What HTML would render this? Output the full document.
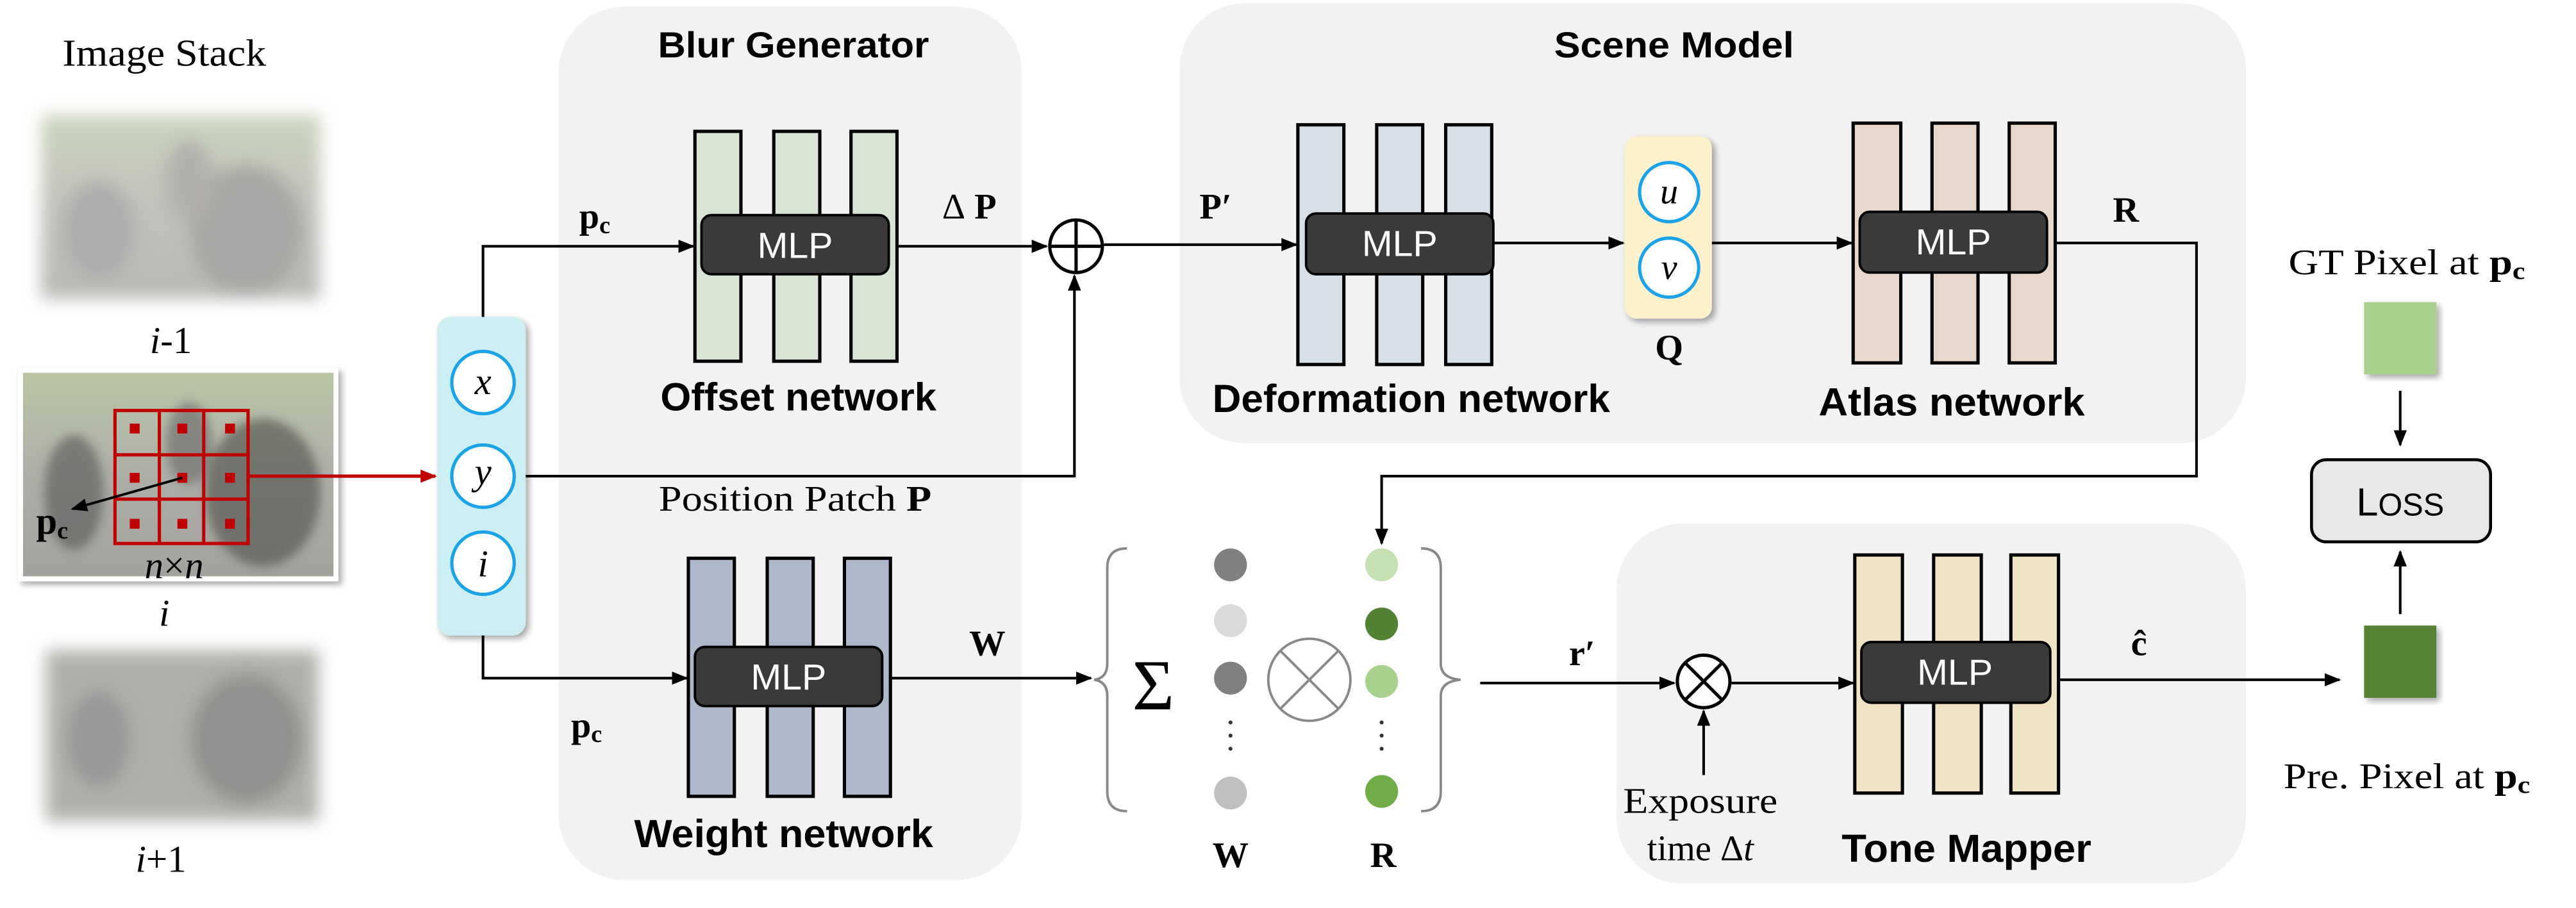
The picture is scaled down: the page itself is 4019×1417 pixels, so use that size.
<!DOCTYPE html>
<html><head><meta charset="utf-8"><style>html,body{margin:0;padding:0;background:#fff}svg{display:block}</style></head><body>
<svg width="4019" height="1417" viewBox="0 0 1568 553" preserveAspectRatio="none" xmlns="http://www.w3.org/2000/svg">
<defs>
<marker id="a" markerWidth="10" markerHeight="10" refX="9" refY="5" orient="auto" markerUnits="userSpaceOnUse"><path d="M0,1 L10,5 L0,9 z" fill="#000"/></marker>
<marker id="ar" markerWidth="10" markerHeight="10" refX="9" refY="5" orient="auto" markerUnits="userSpaceOnUse"><path d="M0,1 L10,5 L0,9 z" fill="#c00000"/></marker>
<filter id="bl"><feGaussianBlur stdDeviation="5"/></filter>
<filter id="bl2"><feGaussianBlur stdDeviation="3"/></filter>
<filter id="sh"><feDropShadow dx="2" dy="2" stdDeviation="2" flood-opacity="0.35"/></filter>
<linearGradient id="img" x1="0" y1="0" x2="0" y2="1"><stop offset="0" stop-color="#a9b890"/><stop offset="0.5" stop-color="#9a9a92"/><stop offset="1" stop-color="#8c8a84"/></linearGradient>
</defs>
<g font-family="Liberation Serif, serif">
<text x="100" y="40" font-size="23" text-anchor="middle" textLength="124" lengthAdjust="spacingAndGlyphs">Image Stack</text>
<g filter="url(#bl)" opacity="0.6"><rect x="25" y="70" width="170" height="112" fill="url(#img)"/><ellipse cx="60" cy="140" rx="22" ry="30" fill="#777"/><ellipse cx="150" cy="140" rx="35" ry="40" fill="#6e6e6a"/><ellipse cx="115" cy="110" rx="15" ry="25" fill="#807d78"/></g>
<text x="104" y="215" font-size="23" text-anchor="middle"><tspan font-style="italic">i</tspan>-1</text>
<rect x="11" y="224" width="195" height="130" fill="#fff" filter="url(#sh)"/>
<rect x="14" y="227" width="189" height="124" fill="url(#img)" opacity="0.8"/>
<g filter="url(#bl2)" opacity="0.6"><ellipse cx="45" cy="300" rx="18" ry="35" fill="#555"/><ellipse cx="160" cy="300" rx="35" ry="45" fill="#4e4e4a"/><ellipse cx="115" cy="270" rx="14" ry="25" fill="#666"/></g>
<g stroke="#c00000" stroke-width="2" fill="none"><rect x="70" y="250" width="81" height="81"/><line x1="97" y1="250" x2="97" y2="331"/><line x1="124" y1="250" x2="124" y2="331"/><line x1="70" y1="277" x2="151" y2="277"/><line x1="70" y1="304" x2="151" y2="304"/></g>
<g fill="#c00000"><rect x="79" y="258" width="6" height="6"/><rect x="108" y="258" width="6" height="6"/><rect x="137" y="258" width="6" height="6"/><rect x="79" y="288" width="6" height="6"/><rect x="108" y="288" width="6" height="6"/><rect x="137" y="288" width="6" height="6"/><rect x="79" y="316" width="6" height="6"/><rect x="108" y="316" width="6" height="6"/><rect x="137" y="316" width="6" height="6"/></g>
<line x1="111" y1="291" x2="44" y2="310" stroke="#000" stroke-width="1.5" marker-end="url(#a)"/>
<text x="22" y="325" font-size="23" font-weight="bold">p<tspan font-size="15" dy="3">c</tspan></text>
<text x="106" y="352" font-size="23" text-anchor="middle" font-style="italic">n<tspan font-style="normal">×</tspan>n</text>
<text x="100" y="381" font-size="23" text-anchor="middle" font-style="italic">i</text>
<g filter="url(#bl)" opacity="0.6"><rect x="28" y="396" width="166" height="104" fill="#7c7c74"/><ellipse cx="60" cy="450" rx="20" ry="30" fill="#555"/><ellipse cx="150" cy="450" rx="35" ry="40" fill="#4a4a46"/></g>
<text x="98" y="531" font-size="23" text-anchor="middle"><tspan font-style="italic">i</tspan>+1</text>
</g>
<rect x="340" y="4" width="282" height="532" rx="40" fill="#f2f2f2"/>
<rect x="718" y="2" width="649" height="268" rx="40" fill="#f2f2f2"/>
<rect x="984" y="319" width="383" height="219" rx="40" fill="#f2f2f2"/>
<g font-family="Liberation Sans, sans-serif" font-size="22" font-weight="bold" text-anchor="middle">
<text x="483" y="35" textLength="165" lengthAdjust="spacingAndGlyphs">Blur Generator</text>
<text x="1019" y="35" textLength="146" lengthAdjust="spacingAndGlyphs">Scene Model</text>
</g>
<rect x="266" y="193" width="54" height="194" rx="8" fill="#cdeef2" filter="url(#sh)"/>
<line x1="151" y1="290" x2="265" y2="290" stroke="#c00000" stroke-width="2" marker-end="url(#ar)"/>
<g stroke="#000" stroke-width="1.6" fill="none">
<polyline points="294,193 294,150 422,150" marker-end="url(#a)"/>
<line x1="541" y1="150" x2="637" y2="150" marker-end="url(#a)"/>
<polyline points="320,290 654,290 654,168" marker-end="url(#a)"/>
<polyline points="294,387 294,413 418,413" marker-end="url(#a)"/>
<line x1="537" y1="413" x2="664" y2="413" marker-end="url(#a)"/>
<line x1="672" y1="149" x2="789" y2="149" marker-end="url(#a)"/>
<line x1="909" y1="148" x2="988" y2="148" marker-end="url(#a)"/>
<line x1="1042" y1="148" x2="1127" y2="148" marker-end="url(#a)"/>
<polyline points="1251,148 1337,148 1337,290 841,290 841,331" marker-end="url(#a)"/>
<line x1="901" y1="416" x2="1019" y2="416" marker-end="url(#a)"/>
<line x1="1054" y1="416" x2="1128" y2="416" marker-end="url(#a)"/>
<line x1="1037" y1="472" x2="1037" y2="433" marker-end="url(#a)"/>
<line x1="1248" y1="414" x2="1424" y2="414" marker-end="url(#a)"/>
<line x1="1461" y1="238" x2="1461" y2="271" marker-end="url(#a)"/>
<line x1="1461" y1="374" x2="1461" y2="336" marker-end="url(#a)"/>
<circle cx="655" cy="150" r="16" fill="#fff" stroke-width="2"/>
<line x1="639" y1="150" x2="671" y2="150" stroke-width="2"/><line x1="655" y1="134" x2="655" y2="166" stroke-width="2"/>
<circle cx="1037" cy="415" r="16" fill="#fff" stroke-width="2"/>
<line x1="1026" y1="404" x2="1048" y2="426" stroke-width="2"/><line x1="1048" y1="404" x2="1026" y2="426" stroke-width="2"/>
</g>
<g fill="#fff" stroke="#1aa3e8" stroke-width="2"><circle cx="294" cy="233" r="19"/><circle cx="294" cy="290" r="19"/><circle cx="294" cy="343" r="19"/></g>
<g font-family="Liberation Serif, serif" font-size="23" font-style="italic" text-anchor="middle"><text x="294" y="240">x</text><text x="294" y="295">y</text><text x="294" y="351">i</text></g>
<g stroke="#000" stroke-width="2">
<g fill="#d9e5d4"><rect x="423" y="80" width="28" height="140"/><rect x="471" y="80" width="28" height="140"/><rect x="518" y="80" width="28" height="140"/></g>
<g fill="#adb9ca"><rect x="419" y="340" width="28" height="145"/><rect x="467" y="340" width="28" height="145"/><rect x="514" y="340" width="28" height="145"/></g>
<g fill="#d6dfe8"><rect x="790" y="76" width="28" height="146"/><rect x="838" y="76" width="28" height="146"/><rect x="880" y="76" width="28" height="146"/></g>
<g fill="#e8d8cc"><rect x="1128" y="75" width="29" height="146"/><rect x="1176" y="75" width="28" height="146"/><rect x="1223" y="75" width="28" height="146"/></g>
<g fill="#efe3c4"><rect x="1129" y="338" width="29" height="145"/><rect x="1177" y="338" width="29" height="145"/><rect x="1224" y="338" width="29" height="145"/></g>
</g>
<rect x="989" y="83" width="53" height="111" rx="7" fill="#fdf1cc" filter="url(#sh)"/>
<g fill="#fff" stroke="#1aa3e8" stroke-width="2"><circle cx="1016" cy="117" r="18"/><circle cx="1016" cy="163" r="18"/></g>
<g fill="#3a3a3a" stroke="#000" stroke-width="1.5">
<rect x="427" y="131" width="114" height="36" rx="6"/><rect x="423" y="394" width="114" height="36" rx="6"/>
<rect x="795" y="130" width="114" height="37" rx="6"/><rect x="1132" y="129" width="114" height="37" rx="6"/>
<rect x="1133" y="391" width="115" height="37" rx="6"/>
</g>
<g font-family="Liberation Sans, sans-serif" font-size="22" fill="#fff" text-anchor="middle">
<text x="484" y="157" textLength="46" lengthAdjust="spacingAndGlyphs">MLP</text><text x="480" y="420" textLength="46" lengthAdjust="spacingAndGlyphs">MLP</text><text x="852" y="156" textLength="46" lengthAdjust="spacingAndGlyphs">MLP</text><text x="1189" y="155" textLength="46" lengthAdjust="spacingAndGlyphs">MLP</text><text x="1190" y="417" textLength="46" lengthAdjust="spacingAndGlyphs">MLP</text>
</g>
<g font-family="Liberation Sans, sans-serif" font-size="24" font-weight="bold" text-anchor="middle" lengthAdjust="spacingAndGlyphs">
<text x="486" y="250" textLength="168" lengthAdjust="spacingAndGlyphs">Offset network</text>
<text x="477" y="516" textLength="182" lengthAdjust="spacingAndGlyphs">Weight network</text>
<text x="859" y="251" textLength="242" lengthAdjust="spacingAndGlyphs">Deformation network</text>
<text x="1188" y="253" textLength="162" lengthAdjust="spacingAndGlyphs">Atlas  network</text>
<text x="1197" y="525" textLength="152" lengthAdjust="spacingAndGlyphs">Tone Mapper</text>
</g>
<g font-family="Liberation Serif, serif" font-size="22" text-anchor="middle">
<text x="362" y="139" font-weight="bold">p<tspan font-size="15" dy="3">c</tspan></text>
<text x="357" y="449" font-weight="bold">p<tspan font-size="15" dy="3">c</tspan></text>
<text x="590" y="133" font-weight="bold"><tspan font-weight="normal">Δ</tspan> P</text>
<text x="484" y="311" textLength="166" lengthAdjust="spacingAndGlyphs">Position Patch <tspan font-weight="bold">P</tspan></text>
<text x="601" y="399" font-weight="bold">W</text>
<text x="740" y="133" font-weight="bold">P′</text>
<text x="1016" y="219" font-weight="bold">Q</text>
<text x="1294" y="135" font-weight="bold">R</text>
<text x="1016" y="124" font-style="italic">u</text><text x="1016" y="170" font-style="italic">v</text>
<text x="963" y="405" font-weight="bold">r′</text>
<text x="1302" y="399" font-weight="bold">ĉ</text>
<text x="1035" y="495" textLength="94" lengthAdjust="spacingAndGlyphs">Exposure</text><text x="1035" y="524">time Δ<tspan font-style="italic">t</tspan></text>
<text x="749" y="528" font-weight="bold">W</text><text x="842" y="528" font-weight="bold">R</text>
<text x="1465" y="167" textLength="144" lengthAdjust="spacingAndGlyphs">GT Pixel at <tspan font-weight="bold">p<tspan font-size="15" dy="3">c</tspan></tspan></text>
<text x="1465" y="480" textLength="150" lengthAdjust="spacingAndGlyphs">Pre. Pixel at <tspan font-weight="bold">p<tspan font-size="15" dy="3">c</tspan></tspan></text>
</g>
<g fill="none" stroke="#888" stroke-width="1.5">
<path d="M686,334 Q674,334 674,346 L674,404 Q674,413 666,414 Q674,415 674,424 L674,482 Q674,494 686,494"/>
<path d="M865,334 Q877,334 877,346 L877,404 Q877,413 889,414 Q877,415 877,424 L877,482 Q877,494 865,494"/>
<circle cx="797" cy="414" r="25"/><line x1="779" y1="396" x2="815" y2="432"/><line x1="815" y1="396" x2="779" y2="432"/>
</g>
<text x="702" y="432" font-family="Liberation Serif, serif" font-size="44" text-anchor="middle">Σ</text>
<g><circle cx="749" cy="344" r="10" fill="#808080"/><circle cx="749" cy="378" r="10" fill="#d9d9d9"/><circle cx="749" cy="413" r="10" fill="#808080"/><circle cx="749" cy="483" r="10" fill="#bfbfbf"/>
<circle cx="841" cy="344" r="10" fill="#c5e0b3"/><circle cx="841" cy="380" r="10" fill="#548235"/><circle cx="841" cy="415" r="10" fill="#a9d18e"/><circle cx="841" cy="482" r="10" fill="#70ad47"/></g>
<g fill="#333"><circle cx="749" cy="440" r="1.2"/><circle cx="749" cy="448" r="1.2"/><circle cx="749" cy="456" r="1.2"/><circle cx="841" cy="440" r="1.2"/><circle cx="841" cy="448" r="1.2"/><circle cx="841" cy="456" r="1.2"/></g>
<rect x="1439" y="184" width="44" height="44" fill="#a9d18e" filter="url(#sh)"/>
<rect x="1439" y="381" width="44" height="44" fill="#548235" filter="url(#sh)"/>
<rect x="1407" y="280" width="109" height="50" rx="9" fill="#e7e7e7" stroke="#000" stroke-width="1.8"/>
<text x="1461" y="314" font-family="Liberation Sans, sans-serif" font-size="24" text-anchor="middle">L<tspan font-size="19">OSS</tspan></text>
</svg>
</body></html>
